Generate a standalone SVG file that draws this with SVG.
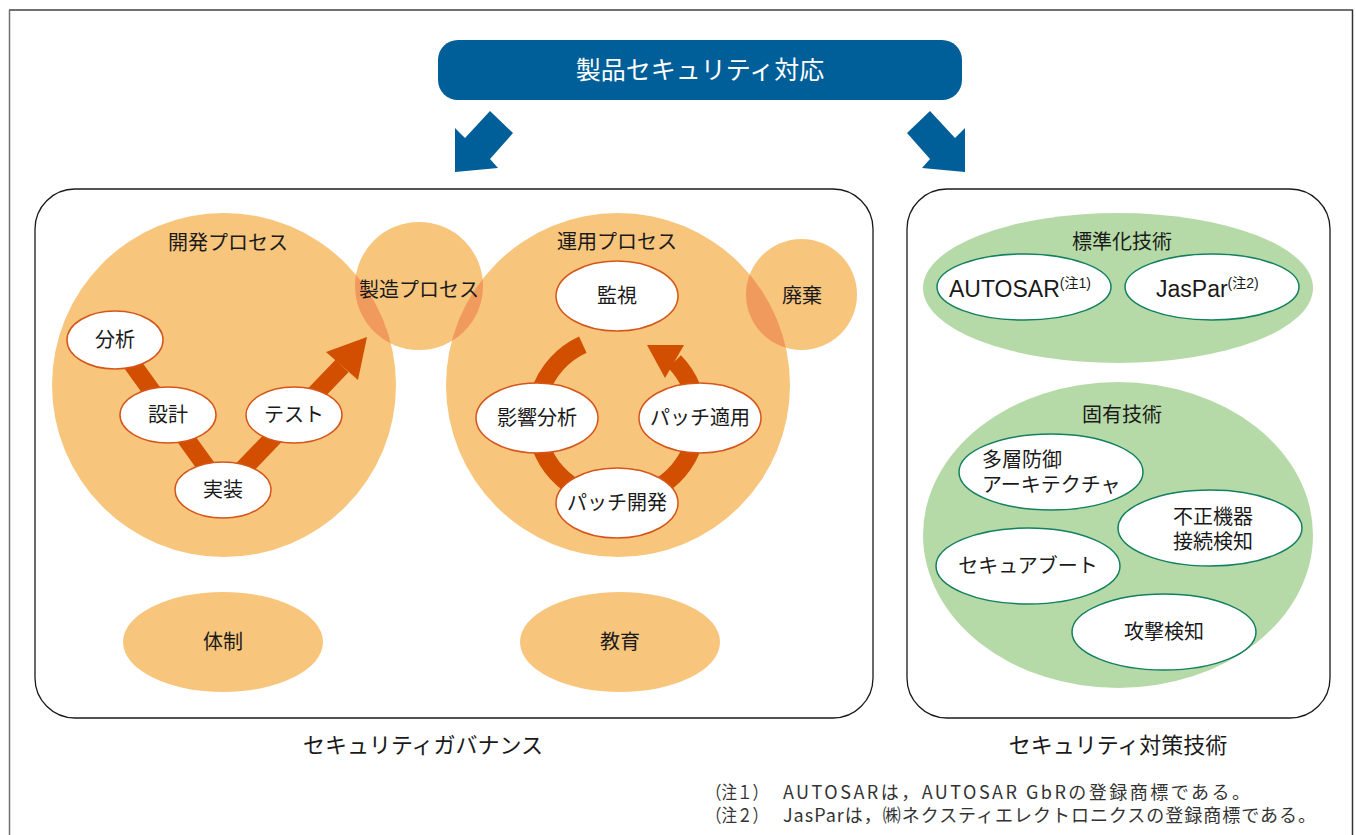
<svg xmlns="http://www.w3.org/2000/svg" width="1356" height="835" viewBox="0 0 1356 835">
<style>
text{font-family:"Noto Sans CJK JP","Noto Sans",sans-serif;fill:#1a1a1a;text-anchor:middle}
.lat{font-family:"Liberation Sans","Noto Sans CJK JP",sans-serif}
.t20{font-size:20px}
.t22{font-size:22px}
.proc{fill:#F8C57C}
.ovl{fill:#F09B5D}
.wo{fill:#fff;stroke:#D5561A;stroke-width:1.5}
.wg{fill:#fff;stroke:#13805F;stroke-width:1.5}
.grn{fill:#B6DAA7}
.panel{fill:none;stroke:#1a1a1a;stroke-width:1.3}
.blue{fill:#005E98}
.flow{fill:none;stroke:#D24E00;stroke-width:18}
.head{fill:#D24E00}
.fn{font-size:18px;text-anchor:start;fill:#333}
</style>
<defs>
<clipPath id="cDev"><circle cx="224" cy="385" r="172"/></clipPath>
<clipPath id="cOps"><circle cx="618" cy="385" r="172"/></clipPath>
</defs>
<rect width="1356" height="835" fill="#fff"/>
<g id="frame" fill="none" stroke="#707070">
<line x1="9" y1="10" x2="1353" y2="10" stroke-width="2"/>
<line x1="9.5" y1="10" x2="9.5" y2="835" stroke-width="1.5"/>
<line x1="1352.5" y1="10" x2="1352.5" y2="835" stroke-width="1.5" stroke="#333"/>
</g>
<g id="title">
<rect class="blue" x="438" y="40" width="524" height="60" rx="20"/>
<text x="700" y="79" style="font-size:25px;fill:#fff">製品セキュリティ対応</text>
</g>
<g id="panel-governance">
<rect class="panel" x="35" y="189" width="838" height="529" rx="40"/>
<text class="t22" x="423" y="753">セキュリティガバナンス</text>
</g>
<g id="panel-tech">
<rect class="panel" x="907" y="189" width="423" height="529" rx="40"/>
<text class="t22" x="1118" y="753">セキュリティ対策技術</text>
</g>
<g id="dev-process">
<circle class="proc" cx="224" cy="385" r="172"/>
<text class="t20" x="228" y="250">開発プロセス</text>
</g>
<g id="ops-process">
<circle class="proc" cx="618" cy="385" r="172"/>
<text class="t20" x="617" y="249">運用プロセス</text>
</g>
<g id="mfg-process">
<circle class="proc" cx="419" cy="286" r="64"/>
<circle class="ovl" cx="419" cy="286" r="64" clip-path="url(#cDev)"/>
<circle class="ovl" cx="419" cy="286" r="64" clip-path="url(#cOps)"/>
<text class="t20" x="419" y="297">製造プロセス</text>
</g>
<g id="disposal">
<circle class="proc" cx="801.5" cy="294.5" r="55.5"/>
<circle class="ovl" cx="801.5" cy="294.5" r="55.5" clip-path="url(#cOps)"/>
<text class="t20" x="802" y="303">廃棄</text>
</g>
<g id="connectors">
<polyline class="flow" points="115,340 223,490 342,366"/>
<polygon class="head" points="367,337 326,352 358,380"/>
<path class="flow" d="M582.8,344.6 A81,81 0 1 0 674.5,361.5"/>
<polygon class="head" points="647,345 684,345 665,378"/>
</g>
<g id="bunseki"><ellipse class="wo" cx="115" cy="340" rx="48" ry="29"/><text class="t20" x="115" y="347">分析</text></g>
<g id="sekkei"><ellipse class="wo" cx="168" cy="415" rx="48" ry="28"/><text class="t20" x="168" y="422">設計</text></g>
<g id="test"><ellipse class="wo" cx="294" cy="415" rx="48" ry="28"/><text class="t20" x="294" y="422">テスト</text></g>
<g id="jisso"><ellipse class="wo" cx="223" cy="490" rx="48" ry="28"/><text class="t20" x="223" y="497">実装</text></g>
<g id="kanshi"><ellipse class="wo" cx="617" cy="296" rx="61" ry="35"/><text class="t20" x="617" y="303">監視</text></g>
<g id="eikyo"><ellipse class="wo" cx="537" cy="418" rx="61" ry="35"/><text class="t20" x="537" y="425">影響分析</text></g>
<g id="patch-apply"><ellipse class="wo" cx="700" cy="418" rx="61" ry="35"/><text class="t20" x="700" y="425">パッチ適用</text></g>
<g id="patch-dev"><ellipse class="wo" cx="617" cy="503" rx="61" ry="35"/><text class="t20" x="617" y="510">パッチ開発</text></g>
<g id="taisei"><ellipse class="proc" cx="223" cy="642" rx="100" ry="50"/><text class="t20" x="223" y="649">体制</text></g>
<g id="kyoiku"><ellipse class="proc" cx="620" cy="642" rx="100" ry="50"/><text class="t20" x="620" y="649">教育</text></g>
<g id="standard-tech">
<ellipse class="grn" cx="1118" cy="288" rx="195" ry="75"/>
<text class="t20" x="1122" y="249">標準化技術</text>
</g>
<g id="autosar"><ellipse class="wg" cx="1024" cy="287" rx="87" ry="33"/>
<text class="lat" x="949" y="297" style="text-anchor:start;font-size:23px">AUTOSAR<tspan dy="-9" style="font-size:14px">(注1)</tspan></text></g>
<g id="jaspar"><ellipse class="wg" cx="1212" cy="287" rx="87" ry="33"/>
<text class="lat" x="1156" y="297" style="text-anchor:start;font-size:23px">JasPar<tspan dy="-9" style="font-size:14px">(注2)</tspan></text></g>
<g id="specific-tech">
<ellipse class="grn" cx="1118" cy="535" rx="195" ry="153"/>
<text class="t20" x="1122" y="422">固有技術</text>
</g>
<g id="defense"><ellipse class="wg" cx="1051" cy="472" rx="92" ry="38"/>
<text class="t20" style="text-anchor:start"><tspan x="982" y="467">多層防御</tspan><tspan x="982" y="492">アーキテクチャ</tspan></text></g>
<g id="unauth"><ellipse class="wg" cx="1210" cy="528" rx="92" ry="38"/>
<text class="t20" style="text-anchor:start"><tspan x="1173" y="524">不正機器</tspan><tspan x="1173" y="549">接続検知</tspan></text></g>
<g id="secureboot"><ellipse class="wg" cx="1028" cy="566" rx="92" ry="38"/><text class="t20" x="1028" y="573">セキュアブート</text></g>
<g id="attack"><ellipse class="wg" cx="1164" cy="632" rx="92" ry="38"/><text class="t20" x="1164" y="639">攻撃検知</text></g>
<g id="notes">
<text class="fn" y="799"><tspan x="706" textLength="62" lengthAdjust="spacingAndGlyphs">（注１）</tspan><tspan x="783" textLength="467">AUTOSARは，AUTOSAR GbRの登録商標である。</tspan></text>
<text class="fn" y="822"><tspan x="706" textLength="62" lengthAdjust="spacingAndGlyphs">（注２）</tspan><tspan x="783" textLength="533">JasParは，㈱ネクスティエレクトロニクスの登録商標である。</tspan></text>
</g>
<g id="arrows">
<polygon class="blue" points="455,128 465,138 490,111 513,133 490,159 498,168 455,172"/>
<polygon class="blue" points="965,128 955,138 930,111 907,133 930,159 922,168 965,172"/>
</g>
</svg>
